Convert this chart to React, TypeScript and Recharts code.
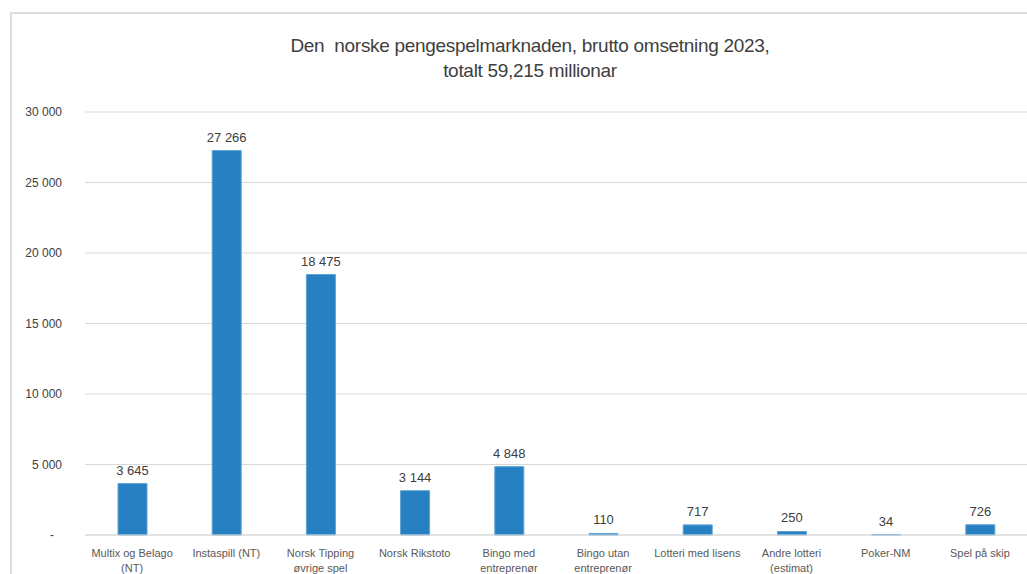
import React from "react";
import { BarChart, Bar, XAxis, YAxis, CartesianGrid, LabelList } from "recharts";

const categories = [
  "Multix og Belago|(NT)",
  "Instaspill (NT)",
  "Norsk Tipping|øvrige spel",
  "Norsk Rikstoto",
  "Bingo med|entreprenør",
  "Bingo utan|entreprenør",
  "Lotteri med lisens",
  "Andre lotteri|(estimat)",
  "Poker-NM",
  "Spel på skip",
];
const values = [3645, 27266, 18475, 3144, 4848, 110, 717, 250, 34, 726];
const yTicks = [0, 5000, 10000, 15000, 20000, 25000, 30000];
const titleLines = [
  "Den  norske pengespelmarknaden, brutto omsetning 2023,",
  "totalt 59,215 millionar",
];

const data = categories.map((c, i) => ({ name: c, value: values[i] }));

const fmt = (v: number) =>
  String(Math.round(v)).replace(/\B(?=(\d{3})+(?!\d))/g, " ");

const FONT = "'Liberation Sans', Arial, sans-serif";

const YTick = (props: any) => {
  const { x, y, payload } = props;
  const v = payload.value;
  return (
    <text
      x={v === 0 ? x - 8 : x}
      y={y}
      dy={4}
      textAnchor="end"
      fontSize={12}
      fill="#404040"
      fontFamily={FONT}
    >
      {v === 0 ? "-" : fmt(v)}
    </text>
  );
};

const XTick = (props: any) => {
  const { x, y, payload } = props;
  const lines = String(payload.value).split("|");
  return (
    <g>
      {lines.map((l, i) => (
        <text
          key={i}
          x={x}
          y={y + 14 + i * 15}
          textAnchor="middle"
          fontSize={11}
          fill="#595959"
          fontFamily={FONT}
        >
          {l}
        </text>
      ))}
    </g>
  );
};

const ValueLabel = (props: any) => {
  const { x, y, width, value } = props;
  return (
    <text
      x={Number(x) + Number(width) / 2}
      y={Number(y) - 9}
      textAnchor="middle"
      fontSize={13}
      fill="#404040"
      fontFamily={FONT}
    >
      {fmt(Number(value))}
    </text>
  );
};

export default function App() {
  return (
    <div
      style={{
        position: "absolute",
        left: 0,
        top: 0,
        width: 1027,
        height: 574,
        background: "#fff",
        overflow: "hidden",
      }}
    >
      <div
        style={{
          position: "absolute",
          left: 10,
          top: 12,
          width: 1040,
          height: 600,
          border: "2px solid #dedede",
          boxSizing: "border-box",
        }}
      />
      <div
        style={{
          position: "absolute",
          left: 0,
          width: 1060,
          top: 33,
          textAlign: "center",
          fontFamily: FONT,
          fontSize: 19,
          color: "#404040",
          lineHeight: "25px",
          letterSpacing: "-0.3px",
          whiteSpace: "pre",
        }}
      >
        {titleLines.map((t, i) => (
          <div key={i}>{t}</div>
        ))}
      </div>
      <div style={{ position: "absolute", left: 0, top: 0 }}>
        <BarChart
          width={1027}
          height={574}
          data={data}
          margin={{ top: 112, right: 0, bottom: 0, left: 0 }}
        >
          <CartesianGrid vertical={false} stroke="#d9d9d9" strokeWidth={1} />
          <XAxis
            dataKey="name"
            height={39}
            tick={<XTick />}
            tickLine={false}
            axisLine={{ stroke: "#d9d9d9" }}
            interval={0}
          />
          <YAxis
            width={85}
            domain={[0, 30000]}
            ticks={yTicks}
            tick={<YTick />}
            tickLine={false}
            axisLine={false}
            tickMargin={17}
          />
          <Bar
            dataKey="value"
            fill="#2680C2"
            stroke="#5FA3D6"
            strokeWidth={1}
            barSize={29}
            isAnimationActive={false}
          >
            <LabelList dataKey="value" content={<ValueLabel />} />
          </Bar>
        </BarChart>
      </div>
    </div>
  );
}
